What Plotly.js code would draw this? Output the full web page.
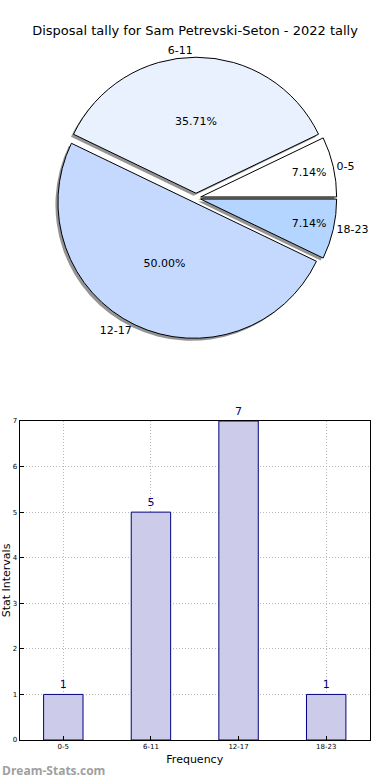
<!DOCTYPE html>
<html>
<head>
<meta charset="utf-8">
<script src="https://cdn.plot.ly/plotly-3.0.1.min.js"></script>
<style>html,body{margin:0;padding:0;background:#fff;}#chart{width:390px;height:780px;}</style>
</head>
<body>
<div id="chart"></div>
<script>
const categories = ["0-5", "6-11", "12-17", "18-23"];
const counts = [1, 5, 7, 1];
const sliceColors = ["#ffffff", "#e9f1ff", "#c5d9ff", "#b4d5ff"];
const titleText = "Disposal tally for Sam Petrevski-Seton - 2022 tally";
const yTickVals = [0, 1, 2, 3, 4, 5, 6, 7];

const W = 390, H = 780;
const pull = 0.035;
const pieCx = 196, pieCy = 198, pieR = 136;
const side = pieR * (2 + 2 * pull);
function px(x) { return x / W; }
function py(y) { return 1 - y / H; }
const pieDomain = { x: [px(pieCx - side / 2), px(pieCx + side / 2)], y: [py(pieCy + side / 2), py(pieCy - side / 2)] };
const sh = 2.5;
const shadowDomain = { x: [px(pieCx - sh - side / 2), px(pieCx - sh + side / 2)], y: [py(pieCy + sh + side / 2), py(pieCy + sh - side / 2)] };

const total = counts.reduce((a, b) => a + b, 0);
// first slice starts at 3 o'clock and slices go counterclockwise
const rot = 90 - 360 * counts[0] / total;

const font = "DejaVu Sans, sans-serif";
const pulls = categories.map(() => pull);
const common = { type: "pie", labels: categories, values: counts, sort: false, direction: "counterclockwise", rotation: rot, pull: pulls, showlegend: false };

const shadow = Object.assign({}, common, {
  domain: shadowDomain, textinfo: "none", hoverinfo: "skip",
  marker: { colors: categories.map(() => "rgba(60,60,60,0.55)"), line: { width: 0 } }
});
const labelTrace = Object.assign({}, common, {
  domain: pieDomain, textinfo: "label", textposition: "outside", hoverinfo: "skip",
  outsidetextfont: { family: font, size: 11, color: "#000" },
  marker: { colors: categories.map(() => "rgba(0,0,0,0)"), line: { width: 0 } }
});
const mainPie = Object.assign({}, common, {
  domain: pieDomain, texttemplate: "%{percent:.2%}", textposition: "inside",
  insidetextorientation: "horizontal",
  insidetextfont: { family: font, size: 11, color: "#000" },
  marker: { colors: sliceColors, line: { width: 1, color: "#000" } }
});
const bars = {
  type: "bar", x: categories, y: counts, width: 0.45, xaxis: "x", yaxis: "y",
  marker: { color: "#ccccea", line: { color: "#000080", width: 1 } },
  text: counts.map(String), textposition: "outside", cliponaxis: false,
  textfont: { family: font, size: 11, color: "#000080" }, showlegend: false
};

const gridStyle = { showgrid: true, gridcolor: "#b8b8b8", griddash: "1px,2px", gridwidth: 1 };
const layout = {
  width: W, height: H, margin: { l: 0, r: 0, t: 0, b: 0 }, paper_bgcolor: "#fff", plot_bgcolor: "#fff",
  font: { family: font, color: "#000" }, showlegend: false,
  title: { text: titleText, font: { family: font, size: 13, color: "#000" }, x: 0.5, xanchor: "center", y: 1 - 30 / H, yanchor: "middle" },
  xaxis: Object.assign({
    domain: [px(19.5), px(370)], range: [-0.5, 3.5], type: "category",
    showline: true, mirror: true, linecolor: "#000", linewidth: 1, ticks: "inside", ticklen: 4, tickcolor: "#000",
    tickfont: { family: font, size: 7, color: "#000" }, automargin: false, zeroline: false,
    title: { text: "Frequency", font: { family: font, size: 11, color: "#000" }, standoff: 4 }
  }, gridStyle),
  yaxis: Object.assign({
    domain: [py(740), py(421)], range: [0, 7], tickvals: yTickVals,
    showline: true, mirror: true, linecolor: "#000", linewidth: 1, ticks: "inside", ticklen: 4, tickcolor: "#000",
    tickfont: { family: font, size: 7, color: "#000" }, automargin: false, zeroline: false,
    title: { text: "Stat Intervals", font: { family: font, size: 11, color: "#000" }, standoff: 3 }
  }, gridStyle),
  annotations: [{
    text: "<b>Dream-Stats.com</b>", xref: "paper", yref: "paper", x: 0, y: py(770), xanchor: "left", yanchor: "middle", showarrow: false,
    font: { family: "Open Sans, sans-serif", size: 12, color: "#a0a0a0" }
  }]
};

Plotly.newPlot("chart", [shadow, labelTrace, mainPie, bars], layout, { staticPlot: true });
</script>
</body>
</html>
